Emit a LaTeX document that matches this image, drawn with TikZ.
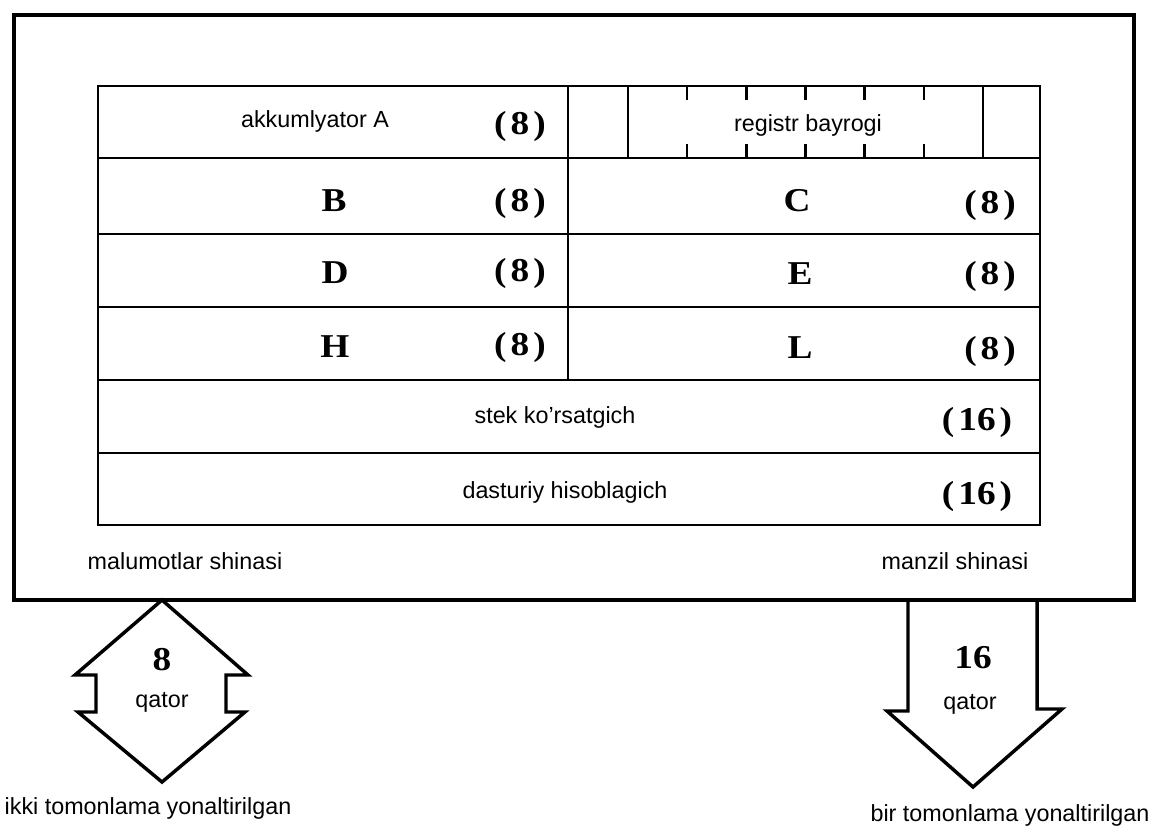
\documentclass[tikz,border=0pt]{standalone}
\usepackage{fontspec}
\setmainfont{Liberation Serif}
\setsansfont{Liberation Sans}
% a slightly extended serif for the register widths and letters
\newfontfamily\wideserif[FakeStretch=1.12]{Liberation Serif}
% widths of register labels, with the loose letter spacing of the print
\newcommand{\regw}[1]{(\kern3pt#1\kern3pt)}
\begin{document}
\begin{tikzpicture}[x=0.75pt,y=-0.75pt,
  frame/.style={line width=3.4pt},
  grid/.style={line width=1.9pt},
  bus/.style={line width=2.6pt, line join=miter},
  lbl/.style={font=\sffamily\fontsize{17.5}{20}\selectfont, inner sep=0pt},
  num/.style={font=\wideserif\bfseries\fontsize{25}{29}\selectfont, inner sep=0pt},
]
\useasboundingbox (0,0) rectangle (1155,827);

% processor frame
\draw[frame] (14,15) rectangle (1134,600);

% register file
\draw[grid] (98,86) rectangle (1040,525);
\foreach \y in {158,234,307,380,453} \draw[grid] (98,\y) -- (1040,\y);
\draw[grid] (568,86) -- (568,380);
\draw[grid] (628,86) -- (628,158);
\draw[grid] (983,86) -- (983,158);
% flag bit boundaries
\foreach \k in {1,...,5} {
  \draw[grid] ({628+59.17*\k},86) -- ++(0,14);
  \draw[grid] ({628+59.17*\k},158) -- ++(0,-14);
}

% register labels
\node[lbl] (acc)  at (315,121) {akkumlyator A};
\node[num] (accn) at (520,126) {\regw{8}};
\node[lbl] (flag) at (808,125) {registr bayrogi};
\node[num] (rb)  at (334,201) {B};
\node[num] (rbn) at (520,203) {\regw{8}};
\node[num] (rc)  at (797,201) {C};
\node[num] (rcn) at (990,205) {\regw{8}};
\node[num] (rd)  at (335,273) {D};
\node[num] (rdn) at (520,273) {\regw{8}};
\node[num] (re)  at (800,274) {E};
\node[num] (ren) at (990,276) {\regw{8}};
\node[num] (rh)  at (335,347) {H};
\node[num] (rhn) at (520,347) {\regw{8}};
\node[num] (rl)  at (800,348) {L};
\node[num] (rln) at (990,351) {\regw{8}};
\node[lbl] (sp)  at (555,417) {stek ko’rsatgich};
\node[num] (spn) at (977,422) {\regw{16}};
\node[lbl] (pc)  at (565,492) {dasturiy hisoblagich};
\node[num] (pcn) at (977,496) {\regw{16}};

% bus names
\node[lbl] (dbus) at (185,561) {malumotlar shinasi};
\node[lbl] (abus) at (955,561) {manzil shinasi};

% data bus: two-way arrow
\draw[bus] (162,600) -- (248,675) -- (226,675) -- (226,712) -- (245,712)
  -- (162,782) -- (78,712) -- (96,712) -- (96,675) -- (75,675) -- cycle;
\node[num] (dn) at (162,660) {8};
\node[lbl] (dq) at (162,702) {qator};
\node[lbl] (dt) at (148,808) {ikki tomonlama yonaltirilgan};

% address bus: one-way arrow
\draw[bus] (908,600) -- (908,711) -- (887,711) -- (973,787) -- (1062,709)
  -- (1037,709) -- (1037,600);
\node[num] (an) at (973,658) {16};
\node[lbl] (aq) at (970,704) {qator};
\node[lbl] (at) at (1010,815) {bir tomonlama yonaltirilgan};
\end{tikzpicture}
\end{document}
